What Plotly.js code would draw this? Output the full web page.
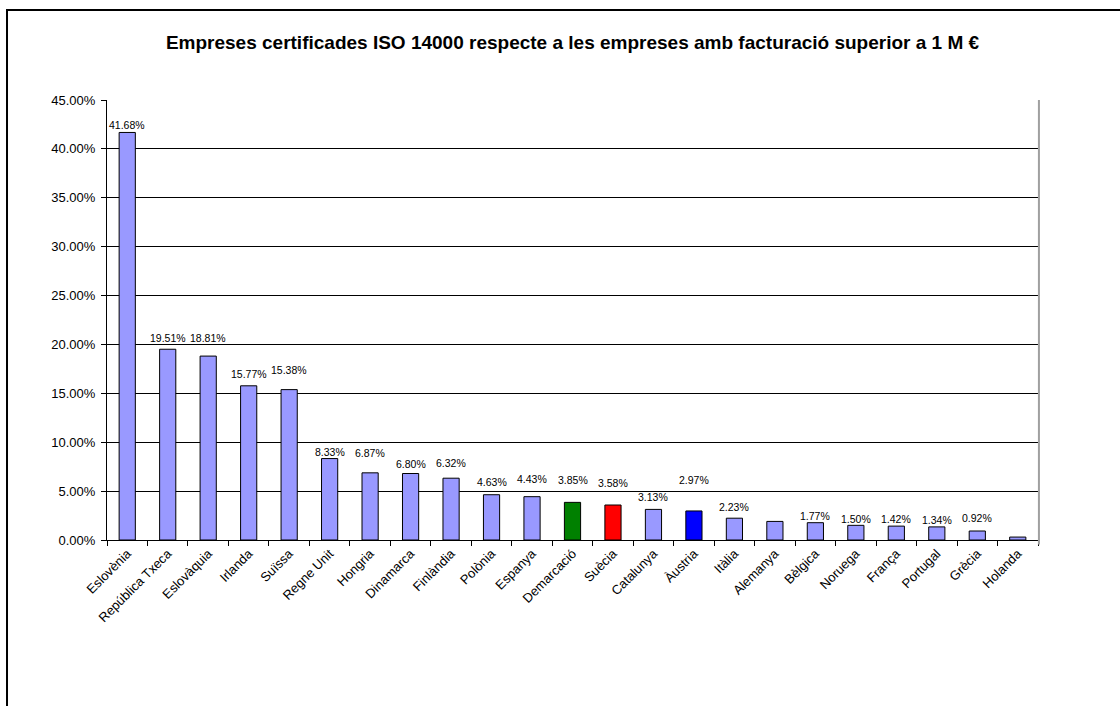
<!DOCTYPE html>
<html>
<head>
<meta charset="utf-8">
<script src="https://cdn.plot.ly/plotly-3.0.1.min.js"></script>
<style>html,body{margin:0;padding:0;background:#fff;}#chart{width:1120px;height:706px;}</style>
</head>
<body>
<div id="chart"></div>
<script>
const categories = ["Eslovènia","República Txeca","Eslovàquia","Irlanda","Suïssa","Regne Unit","Hongria","Dinamarca","Finlàndia","Polònia","Espanya","Demarcació","Suècia","Catalunya","Àustria","Itàlia","Alemanya","Bèlgica","Noruega","França","Portugal","Grècia","Holanda"];
const values = [41.68,19.51,18.81,15.77,15.38,8.33,6.87,6.80,6.32,4.63,4.43,3.85,3.58,3.13,2.97,2.23,1.90,1.77,1.50,1.42,1.34,0.92,0.30];
const labels = ["41.68%","19.51%","18.81%","15.77%","15.38%","8.33%","6.87%","6.80%","6.32%","4.63%","4.43%","3.85%","3.58%","3.13%","2.97%","2.23%","","1.77%","1.50%","1.42%","1.34%","0.92%",""];
const labelShift = [7,11,18,12,20,7,20,10,15,13,18,22,22,12,31,11,0,7,6,7,7,13,0];
const yTicks = [0,5,10,15,20,25,30,35,40,45];
const yTickText = yTicks.map(v => v.toFixed(2) + "%");

const highlight = {"Demarcació":"#008000","Suècia":"#FF0000","Àustria":"#0000FF"};
const colors = categories.map(c => highlight[c] || "#9999FF");

const trace = {
  type: "bar",
  x: categories,
  y: values,
  marker: {color: colors, line: {color: "#000", width: 1}},
  width: 0.4,
  hoverinfo: "x+y"
};

const annotations = categories.map((c, i) => ({
  x: c, y: values[i], xref: "x", yref: "y",
  text: labels[i], showarrow: false,
  yanchor: "middle", yshift: labelShift[i],
  font: {family: "Liberation Sans, Arial, sans-serif", size: 10.5, color: "#000"}
})).filter(a => a.text !== "");

const layout = {
  width: 1120, height: 706,
  margin: {l: 107, r: 82, t: 100, b: 166},
  paper_bgcolor: "#fff", plot_bgcolor: "#fff",
  showlegend: false,
  title: {
    text: "<b>Empreses certificades ISO 14000 respecte a les empreses amb facturació superior a 1 M €</b>",
    x: 0.5, xref: "paper", xanchor: "center",
    y: 1 - 42/706, yref: "container", yanchor: "middle",
    font: {family: "Liberation Sans, Arial, sans-serif", size: 19, color: "#000"}
  },
  xaxis: {
    type: "category",
    tickangle: -45,
    ticks: "outside", ticklen: 5, tickcolor: "#000", tickson: "boundaries",
    showline: true, linecolor: "#000", linewidth: 1,
    showgrid: false,
    tickfont: {family: "Liberation Sans, Arial, sans-serif", size: 13, color: "#000"},
    fixedrange: true
  },
  yaxis: {
    range: [0, 45],
    tickvals: yTicks, ticktext: yTickText,
    ticks: "outside", ticklen: 5, tickcolor: "#000",
    ticklabelstandoff: 3,
    showline: true, linecolor: "#000", linewidth: 1,
    showgrid: true, gridcolor: "#000", gridwidth: 1,
    zeroline: false,
    tickfont: {family: "Liberation Sans, Arial, sans-serif", size: 13, color: "#000"},
    fixedrange: true
  },
  annotations: annotations,
  shapes: [
    {type: "rect", xref: "paper", yref: "paper", x0: -0.1074, x1: 1.2, y0: -0.5, y1: 1.2045,
     line: {color: "#000", width: 2}, fillcolor: "rgba(0,0,0,0)", layer: "below"},
    {type: "line", xref: "paper", yref: "paper", x0: 1.001, x1: 1.001, y0: -0.01, y1: 1,
     line: {color: "#A0A0A0", width: 2}}
  ]
};

Plotly.newPlot("chart", [trace], layout, {displayModeBar: false, staticPlot: true});
</script>
</body>
</html>
